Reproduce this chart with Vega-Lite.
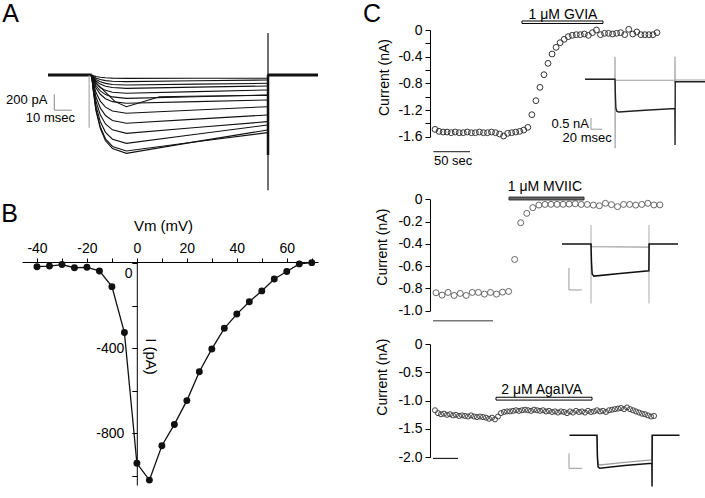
{
"$schema":"https://vega.github.io/schema/vega-lite/v6.json",
"width":705,"height":498,"autosize":{"type":"none"},"padding":0,"background":"white",
"config":{"view":{"stroke":null},"font":"Liberation Sans","axis":{"grid":false,"domainColor":"#000","domainWidth":1,"tickColor":"#000","tickWidth":1,"labelColor":"#000","labelFont":"Liberation Sans","labelFontSize":14,"titleFont":"Liberation Sans","titleFontWeight":"normal","titleColor":"#000","titleFontSize":14,"labelFlush":false,"labelOverlap":false,"labelBound":false},"text":{"font":"Liberation Sans","color":"#000"}},
"resolve":{"scale":{"x":"independent","y":"independent"},"axis":{"x":"independent","y":"independent"}},
"datasets":{
"aTr":[
{"k":1,"t":25,"i":0},{"k":1,"t":26,"i":-8},{"k":1,"t":27.5,"i":-19},{"k":1,"t":30,"i":-29},{"k":1,"t":33,"i":-35},{"k":1,"t":37,"i":-39},{"k":1,"t":45,"i":-42},{"k":1,"t":85,"i":-41},{"k":1,"t":126,"i":-40},
{"k":2,"t":25,"i":0},{"k":2,"t":26,"i":-17},{"k":2,"t":27.5,"i":-37},{"k":2,"t":30,"i":-56},{"k":2,"t":33,"i":-70},{"k":2,"t":37,"i":-78},{"k":2,"t":45,"i":-83},{"k":2,"t":85,"i":-72},{"k":2,"t":126,"i":-62},
{"k":3,"t":25,"i":0},{"k":3,"t":26,"i":-25},{"k":3,"t":27.5,"i":-56},{"k":3,"t":30,"i":-85},{"k":3,"t":33,"i":-105},{"k":3,"t":37,"i":-118},{"k":3,"t":45,"i":-125},{"k":3,"t":85,"i":-114},{"k":3,"t":126,"i":-104},
{"k":4,"t":25,"i":0},{"k":4,"t":26,"i":-33},{"k":4,"t":27.5,"i":-75},{"k":4,"t":30,"i":-114},{"k":4,"t":33,"i":-140},{"k":4,"t":37,"i":-157},{"k":4,"t":45,"i":-167},{"k":4,"t":85,"i":-152},{"k":4,"t":126,"i":-137},
{"k":5,"t":25,"i":0},{"k":5,"t":26,"i":-46},{"k":5,"t":27.5,"i":-103},{"k":5,"t":30,"i":-156},{"k":5,"t":33,"i":-192},{"k":5,"t":37,"i":-215},{"k":5,"t":45,"i":-229},{"k":5,"t":85,"i":-208},{"k":5,"t":126,"i":-187},
{"k":6,"t":25,"i":0},{"k":6,"t":26,"i":-58},{"k":6,"t":27.5,"i":-131},{"k":6,"t":30,"i":-199},{"k":6,"t":33,"i":-245},{"k":6,"t":37,"i":-274},{"k":6,"t":45,"i":-292},{"k":6,"t":85,"i":-271},{"k":6,"t":126,"i":-250},
{"k":7,"t":25,"i":0},{"k":7,"t":26,"i":-71},{"k":7,"t":27.5,"i":-159},{"k":7,"t":30,"i":-241},{"k":7,"t":33,"i":-297},{"k":7,"t":37,"i":-333},{"k":7,"t":45,"i":-354},{"k":7,"t":85,"i":-333},{"k":7,"t":126,"i":-312},
{"k":8,"t":25,"i":0},{"k":8,"t":26,"i":-96},{"k":8,"t":27.5,"i":-216},{"k":8,"t":30,"i":-326},{"k":8,"t":33,"i":-402},{"k":8,"t":37,"i":-450},{"k":8,"t":45,"i":-479},{"k":8,"t":85,"i":-437},{"k":8,"t":126,"i":-396},
{"k":9,"t":25,"i":0},{"k":9,"t":26,"i":-121},{"k":9,"t":27.5,"i":-272},{"k":9,"t":30,"i":-411},{"k":9,"t":33,"i":-507},{"k":9,"t":37,"i":-568},{"k":9,"t":45,"i":-604},{"k":9,"t":85,"i":-552},{"k":9,"t":126,"i":-500},
{"k":10,"t":25,"i":0},{"k":10,"t":26,"i":-146},{"k":10,"t":27.5,"i":-328},{"k":10,"t":30,"i":-496},{"k":10,"t":33,"i":-612},{"k":10,"t":37,"i":-685},{"k":10,"t":45,"i":-729},{"k":10,"t":85,"i":-656},{"k":10,"t":126,"i":-583},
{"k":11,"t":25,"i":0},{"k":11,"t":26,"i":-171},{"k":11,"t":27.5,"i":-384},{"k":11,"t":30,"i":-581},{"k":11,"t":33,"i":-717},{"k":11,"t":37,"i":-803},{"k":11,"t":45,"i":-854},{"k":11,"t":85,"i":-740},{"k":11,"t":126,"i":-625},
{"k":12,"t":25,"i":0},{"k":12,"t":26,"i":-196},{"k":12,"t":27.5,"i":-441},{"k":12,"t":30,"i":-666},{"k":12,"t":33,"i":-822},{"k":12,"t":37,"i":-920},{"k":12,"t":45,"i":-979},{"k":12,"t":85,"i":-833},{"k":12,"t":126,"i":-688},
{"k":13,"t":25,"i":0},{"k":13,"t":26,"i":-190},{"k":13,"t":27.5,"i":-428},{"k":13,"t":30,"i":-646},{"k":13,"t":33,"i":-798},{"k":13,"t":37,"i":-893},{"k":13,"t":45,"i":-950},{"k":13,"t":85,"i":-835},{"k":13,"t":126,"i":-720},
{"k":14,"t":25,"i":0},{"k":14,"t":27.8,"i":-104},{"k":14,"t":38.5,"i":-333},{"k":14,"t":45,"i":-396},{"k":14,"t":64,"i":-271},{"k":14,"t":90,"i":-262},{"k":14,"t":126,"i":-255}
],
"bIV":[
{"v":-40,"i":-16},{"v":-35,"i":-13},{"v":-30,"i":-6},{"v":-25,"i":-21},{"v":-20,"i":-19},{"v":-15,"i":-36},{"v":-10,"i":-110},{"v":-5,"i":-326},{"v":0,"i":-941},{"v":5,"i":-1020},{"v":10,"i":-858},{"v":15,"i":-758},{"v":20,"i":-646},{"v":25,"i":-510},{"v":30,"i":-403},{"v":35,"i":-306},{"v":40,"i":-239},{"v":45,"i":-181},{"v":50,"i":-130},{"v":55,"i":-74},{"v":60,"i":-39},{"v":65,"i":-3},{"v":70,"i":3}
],
"c1":[
{"t":0,"i":-1.49},{"t":5.5,"i":-1.52},{"t":11,"i":-1.53},{"t":16.5,"i":-1.53},{"t":22,"i":-1.54},{"t":27.5,"i":-1.53},{"t":33,"i":-1.54},{"t":38.5,"i":-1.54},{"t":44,"i":-1.53},{"t":49.5,"i":-1.54},{"t":55,"i":-1.54},{"t":60.5,"i":-1.53},{"t":66,"i":-1.54},{"t":71.5,"i":-1.54},{"t":77,"i":-1.53},{"t":82.5,"i":-1.54},{"t":88,"i":-1.56},{"t":93.5,"i":-1.59},{"t":99,"i":-1.55},{"t":104.5,"i":-1.54},{"t":110,"i":-1.53},{"t":115.5,"i":-1.52},{"t":121,"i":-1.5},{"t":126.5,"i":-1.46},{"t":132,"i":-1.27},{"t":137.5,"i":-1.06},{"t":143,"i":-0.86},{"t":148.5,"i":-0.67},{"t":154,"i":-0.5},{"t":159.5,"i":-0.36},{"t":165,"i":-0.26},{"t":170.5,"i":-0.19},{"t":176,"i":-0.14},{"t":181.5,"i":-0.1},{"t":187,"i":-0.08},{"t":192.5,"i":-0.07},{"t":198,"i":-0.07},{"t":203.5,"i":-0.06},{"t":209,"i":-0.08},{"t":214.5,"i":-0.04},{"t":220,"i":0.0},{"t":225.5,"i":-0.07},{"t":231,"i":-0.05},{"t":236.5,"i":-0.05},{"t":242,"i":-0.06},{"t":247.5,"i":-0.05},{"t":253,"i":-0.04},{"t":258.5,"i":-0.07},{"t":264,"i":0.01},{"t":269.5,"i":-0.06},{"t":275,"i":-0.03},{"t":280.5,"i":-0.07},{"t":286,"i":-0.07},{"t":291.5,"i":-0.07},{"t":297,"i":-0.07},{"t":302.5,"i":-0.04}
],
"c2":[
{"t":0,"i":-0.839},{"t":5,"i":-0.86},{"t":10,"i":-0.836},{"t":15,"i":-0.863},{"t":20,"i":-0.845},{"t":25,"i":-0.863},{"t":30,"i":-0.836},{"t":35,"i":-0.836},{"t":40,"i":-0.851},{"t":45,"i":-0.836},{"t":50,"i":-0.851},{"t":55,"i":-0.833},{"t":60,"i":-0.827},{"t":65,"i":-0.54},{"t":70,"i":-0.21},{"t":75,"i":-0.126},{"t":80,"i":-0.075},{"t":85,"i":-0.052},{"t":90,"i":-0.046},{"t":95,"i":-0.045},{"t":100,"i":-0.045},{"t":105,"i":-0.045},{"t":110,"i":-0.043},{"t":115,"i":-0.04},{"t":120,"i":-0.046},{"t":125,"i":-0.046},{"t":130,"i":-0.052},{"t":135,"i":-0.058},{"t":140,"i":-0.036},{"t":145,"i":-0.048},{"t":150,"i":-0.066},{"t":155,"i":-0.046},{"t":160,"i":-0.046},{"t":165,"i":-0.052},{"t":170,"i":-0.046},{"t":175,"i":-0.036},{"t":180,"i":-0.051},{"t":185,"i":-0.05}
],
"c3":[
{"t":0,"i":-1.17},{"t":6,"i":-1.22},{"t":12,"i":-1.24},{"t":18,"i":-1.23},{"t":24,"i":-1.25},{"t":30,"i":-1.24},{"t":36,"i":-1.26},{"t":42,"i":-1.25},{"t":48,"i":-1.27},{"t":54,"i":-1.26},{"t":60,"i":-1.27},{"t":66,"i":-1.28},{"t":72,"i":-1.26},{"t":78,"i":-1.28},{"t":84,"i":-1.29},{"t":90,"i":-1.28},{"t":96,"i":-1.29},{"t":102,"i":-1.3},{"t":108,"i":-1.32},{"t":114,"i":-1.3},{"t":120,"i":-1.33},{"t":126,"i":-1.28},{"t":132,"i":-1.22},{"t":138,"i":-1.2},{"t":144,"i":-1.19},{"t":150,"i":-1.19},{"t":156,"i":-1.18},{"t":162,"i":-1.17},{"t":168,"i":-1.18},{"t":174,"i":-1.17},{"t":180,"i":-1.16},{"t":186,"i":-1.17},{"t":192,"i":-1.18},{"t":198,"i":-1.16},{"t":204,"i":-1.17},{"t":210,"i":-1.18},{"t":216,"i":-1.17},{"t":222,"i":-1.19},{"t":228,"i":-1.18},{"t":234,"i":-1.2},{"t":240,"i":-1.19},{"t":246,"i":-1.21},{"t":252,"i":-1.19},{"t":258,"i":-1.2},{"t":264,"i":-1.22},{"t":270,"i":-1.19},{"t":276,"i":-1.21},{"t":282,"i":-1.18},{"t":288,"i":-1.2},{"t":294,"i":-1.19},{"t":300,"i":-1.21},{"t":306,"i":-1.18},{"t":312,"i":-1.2},{"t":318,"i":-1.19},{"t":324,"i":-1.17},{"t":330,"i":-1.19},{"t":336,"i":-1.18},{"t":342,"i":-1.2},{"t":348,"i":-1.17},{"t":354,"i":-1.16},{"t":360,"i":-1.15},{"t":366,"i":-1.14},{"t":372,"i":-1.13},{"t":378,"i":-1.15},{"t":384,"i":-1.12},{"t":390,"i":-1.15},{"t":396,"i":-1.17},{"t":402,"i":-1.19},{"t":408,"i":-1.21},{"t":414,"i":-1.23},{"t":420,"i":-1.24},{"t":426,"i":-1.26},{"t":432,"i":-1.28},{"t":438,"i":-1.27}
],
"c1g":[{"t":0,"i":0},{"t":49.8,"i":0},{"t":50,"i":0.94},{"t":50.2,"i":-2.87},{"t":50.5,"i":-0.03},{"t":149.8,"i":-0.04},{"t":150,"i":0.94},{"t":150.2,"i":-0.17},{"t":150.5,"i":-0.03},{"t":200,"i":-0.03}],
"c1b":[{"t":0,"i":0},{"t":50,"i":0},{"t":50.7,"i":-0.7},{"t":51.5,"i":-1.2},{"t":53,"i":-1.33},{"t":56,"i":-1.36},{"t":100,"i":-1.29},{"t":149.8,"i":-1.22},{"t":150.1,"i":-2.74},{"t":150.4,"i":-0.1},{"t":200,"i":-0.1}],
"c2g":[{"t":50,"i":0},{"t":50.8,"i":-0.06},{"t":149.8,"i":-0.07},{"t":150.3,"i":0}],
"c2b":[{"t":0,"i":0},{"t":50,"i":0},{"t":50.8,"i":-0.4},{"t":52,"i":-0.68},{"t":55,"i":-0.73},{"t":100,"i":-0.67},{"t":149.8,"i":-0.61},{"t":150.2,"i":0},{"t":200,"i":0}],
"c3g":[{"t":50,"i":0},{"t":50.8,"i":-0.7},{"t":52,"i":-0.95},{"t":55,"i":-0.99},{"t":100,"i":-0.9},{"t":149.8,"i":-0.82},{"t":150.2,"i":0}],
"c3b":[{"t":0,"i":0},{"t":50,"i":0},{"t":50.8,"i":-0.75},{"t":52,"i":-1.05},{"t":55,"i":-1.1},{"t":100,"i":-1.01},{"t":149.8,"i":-0.93},{"t":150.1,"i":-1.71},{"t":150.4,"i":0},{"t":200,"i":0}]
},
"layer":[
{"data":{"values":[{"t":0,"t2":25,"i":0},{"t":126,"t2":155,"i":0}]},"mark":{"type":"rule","color":"#111","strokeWidth":3},
 "encoding":{"x":{"field":"t","type":"quantitative","scale":{"domain":[0,155],"range":[48,318],"nice":false,"zero":false},"axis":null},"x2":{"field":"t2"},"y":{"field":"i","type":"quantitative","scale":{"domain":[-1000,0],"range":[155,75],"nice":false,"zero":false},"axis":null}}},
{"data":{"name":"aTr"},"mark":{"type":"line","color":"#111","strokeWidth":1.1},
 "encoding":{"x":{"field":"t","type":"quantitative","scale":{"domain":[0,155],"range":[48,318],"nice":false,"zero":false},"axis":null},"y":{"field":"i","type":"quantitative","scale":{"domain":[-1000,0],"range":[155,75],"nice":false,"zero":false},"axis":null},"detail":{"field":"k","type":"nominal"}}},
{"data":{"values":[{"t":23.6,"i":0,"i2":-660}]},"mark":{"type":"rule","color":"#999","strokeWidth":1},
 "encoding":{"x":{"field":"t","type":"quantitative","scale":{"domain":[0,155],"range":[48,318],"nice":false,"zero":false},"axis":null},"y":{"field":"i","type":"quantitative","scale":{"domain":[-1000,0],"range":[155,75],"nice":false,"zero":false},"axis":null},"y2":{"field":"i2"}}},
{"data":{"values":[{"t":126.3,"i":525,"i2":-1440}]},"mark":{"type":"rule","color":"#111","strokeWidth":1.2},
 "encoding":{"x":{"field":"t","type":"quantitative","scale":{"domain":[0,155],"range":[48,318],"nice":false,"zero":false},"axis":null},"y":{"field":"i","type":"quantitative","scale":{"domain":[-1000,0],"range":[155,75],"nice":false,"zero":false},"axis":null},"y2":{"field":"i2"}}},
{"data":{"values":[{"t":126.3,"i":0,"i2":-1000}]},"mark":{"type":"rule","color":"#111","strokeWidth":2.5},
 "encoding":{"x":{"field":"t","type":"quantitative","scale":{"domain":[0,155],"range":[48,318],"nice":false,"zero":false},"axis":null},"y":{"field":"i","type":"quantitative","scale":{"domain":[-1000,0],"range":[155,75],"nice":false,"zero":false},"axis":null},"y2":{"field":"i2"}}},
{"data":{"values":[{"t":3.6,"t2":3.6,"i":-240,"i2":-440},{"t":3.6,"t2":13.6,"i":-440,"i2":-440}]},"mark":{"type":"rule","color":"#888","strokeWidth":1},
 "encoding":{"x":{"field":"t","type":"quantitative","scale":{"domain":[0,155],"range":[48,318],"nice":false,"zero":false},"axis":null},"x2":{"field":"t2"},"y":{"field":"i","type":"quantitative","scale":{"domain":[-1000,0],"range":[155,75],"nice":false,"zero":false},"axis":null},"y2":{"field":"i2"}}},
{"data":{"values":[{"t":-0.4,"i":-312,"label":"200 pA"},{"t":15.5,"i":-541,"label":"10 msec"}]},"mark":{"type":"text","align":"right","baseline":"middle","fontSize":13},
 "encoding":{"x":{"field":"t","type":"quantitative","scale":{"domain":[0,155],"range":[48,318],"nice":false,"zero":false},"axis":null},"y":{"field":"i","type":"quantitative","scale":{"domain":[-1000,0],"range":[155,75],"nice":false,"zero":false},"axis":null},"text":{"field":"label"}}},
{"data":{"values":[{"t":-21.5,"i":762,"label":"A"}]},"mark":{"type":"text","align":"center","baseline":"middle","fontSize":25},
 "encoding":{"x":{"field":"t","type":"quantitative","scale":{"domain":[0,155],"range":[48,318],"nice":false,"zero":false},"axis":null},"y":{"field":"i","type":"quantitative","scale":{"domain":[-1000,0],"range":[155,75],"nice":false,"zero":false},"axis":null},"text":{"field":"label"}}},

{"data":{"name":"bIV"},"mark":{"type":"line","color":"#111","strokeWidth":1.3,"point":{"filled":true,"size":48,"color":"#111","opacity":1}},
 "encoding":{"x":{"field":"v","type":"quantitative","scale":{"domain":[-46,72.5],"range":[22,318],"nice":false,"zero":false},
   "axis":{"orient":"top","offset":-262,"values":[-40,-30,-20,-10,0,10,20,30,40,50,60,70],"labelExpr":"datum.value % 20 == 0 ? (datum.value < 0 ? '-' : '') + abs(datum.value) : ''","tickSize":4,"labelPadding":3,"title":"Vm (mV)","titleX":163,"titleY":-37,"titleAlign":"center","titleBaseline":"middle","titleFontSize":15,"labelFontSize":14}},
  "y":{"field":"i","type":"quantitative","scale":{"domain":[-1043,5],"range":[485,262.2],"nice":false,"zero":false},
   "axis":{"orient":"left","offset":-136.8,"values":[0,-200,-400,-600,-800,-1000],"labelExpr":"datum.value == -400 || datum.value == -800 ? '-' + abs(datum.value) : ''","tickSize":5,"labelPadding":8,"title":"I (pA)","titleAngle":90,"titleX":14,"titleY":356,"titleAlign":"center","titleBaseline":"middle","titleFontSize":15,"labelFontSize":14}}}},
{"data":{"values":[{"v":-3.3,"i":-49,"label":"0"},{"v":-51,"i":230,"label":"B"}]},"mark":{"type":"text","align":"center","baseline":"middle","fontSize":14},
 "encoding":{"x":{"field":"v","type":"quantitative","scale":{"domain":[-46,72.5],"range":[22,318],"nice":false,"zero":false},"axis":null},"y":{"field":"i","type":"quantitative","scale":{"domain":[-1043,5],"range":[485,262.2],"nice":false,"zero":false},"axis":null},"text":{"field":"label"},
  "size":{"condition":{"test":"datum.label == 'B'","value":25},"value":14}}},

{"data":{"name":"c1"},"mark":{"type":"point","shape":"circle","filled":false,"stroke":"#333","strokeWidth":1,"size":34,"opacity":1},
 "encoding":{"x":{"field":"t","type":"quantitative","scale":{"domain":[0,302.5],"range":[435,657],"nice":false,"zero":false},"axis":null},
  "y":{"field":"i","type":"quantitative","scale":{"domain":[-1.6,0],"range":[136.7,30],"nice":false,"zero":false},
   "axis":{"orient":"left","offset":-430,"values":[0,-0.2,-0.4,-0.6,-0.8,-1,-1.2,-1.4,-1.6],"labelExpr":"datum.value == 0 ? '0' : (abs(round(datum.value*10)) % 4 == 0 ? '-' + format(abs(datum.value), '.1f') : '')","tickSize":5,"labelPadding":3,"title":"Current (nA)","titleAngle":-90,"titleX":-46,"titleY":77,"titleAlign":"center","titleBaseline":"middle"}}}},
{"data":{"values":[{"t":118.5,"t2":228.9,"i":0.135,"i2":0.0975}]},"mark":{"type":"rect","fill":"white","stroke":"#000","strokeWidth":1},
 "encoding":{"x":{"field":"t","type":"quantitative","scale":{"domain":[0,302.5],"range":[435,657],"nice":false,"zero":false},"axis":null},"x2":{"field":"t2"},"y":{"field":"i","type":"quantitative","scale":{"domain":[-1.6,0],"range":[136.7,30],"nice":false,"zero":false},"axis":null},"y2":{"field":"i2"}}},
{"data":{"values":[{"t":174.4,"i":0.225,"label":"1 μM GVIA"}]},"mark":{"type":"text","align":"center","baseline":"middle","fontSize":14},
 "encoding":{"x":{"field":"t","type":"quantitative","scale":{"domain":[0,302.5],"range":[435,657],"nice":false,"zero":false},"axis":null},"y":{"field":"i","type":"quantitative","scale":{"domain":[-1.6,0],"range":[136.7,30],"nice":false,"zero":false},"axis":null},"text":{"field":"label"}}},
{"data":{"values":[{"t":-2.3,"t2":47.7,"i":-1.825}]},"mark":{"type":"rule","color":"#444","strokeWidth":1.2},
 "encoding":{"x":{"field":"t","type":"quantitative","scale":{"domain":[0,302.5],"range":[435,657],"nice":false,"zero":false},"axis":null},"x2":{"field":"t2"},"y":{"field":"i","type":"quantitative","scale":{"domain":[-1.6,0],"range":[136.7,30],"nice":false,"zero":false},"axis":null}}},
{"data":{"values":[{"t":-1.4,"i":-1.964,"label":"50 sec"}]},"mark":{"type":"text","align":"left","baseline":"middle","fontSize":13},
 "encoding":{"x":{"field":"t","type":"quantitative","scale":{"domain":[0,302.5],"range":[435,657],"nice":false,"zero":false},"axis":null},"y":{"field":"i","type":"quantitative","scale":{"domain":[-1.6,0],"range":[136.7,30],"nice":false,"zero":false},"axis":null},"text":{"field":"label"}}},
{"data":{"values":[{"t":-85.8,"i":0.247,"label":"C"}]},"mark":{"type":"text","align":"center","baseline":"middle","fontSize":25},
 "encoding":{"x":{"field":"t","type":"quantitative","scale":{"domain":[0,302.5],"range":[435,657],"nice":false,"zero":false},"axis":null},"y":{"field":"i","type":"quantitative","scale":{"domain":[-1.6,0],"range":[136.7,30],"nice":false,"zero":false},"axis":null},"text":{"field":"label"}}},
{"data":{"name":"c1g"},"mark":{"type":"line","color":"#a0a0a0","strokeWidth":1.2},
 "encoding":{"x":{"field":"t","type":"quantitative","scale":{"domain":[0,200],"range":[585,705],"nice":false,"zero":false},"axis":null},"y":{"field":"i","type":"quantitative","scale":{"domain":[-2,0],"range":[127.3,79.3],"nice":false,"zero":false},"axis":null}}},
{"data":{"name":"c1b"},"mark":{"type":"line","color":"#222","strokeWidth":1.4},
 "encoding":{"x":{"field":"t","type":"quantitative","scale":{"domain":[0,200],"range":[585,705],"nice":false,"zero":false},"axis":null},"y":{"field":"i","type":"quantitative","scale":{"domain":[-2,0],"range":[127.3,79.3],"nice":false,"zero":false},"axis":null}}},
{"data":{"values":[{"t":10,"t2":10,"i":-1.61,"i2":-2.08},{"t":10,"t2":29,"i":-2.08,"i2":-2.08}]},"mark":{"type":"rule","color":"#999","strokeWidth":1},
 "encoding":{"x":{"field":"t","type":"quantitative","scale":{"domain":[0,200],"range":[585,705],"nice":false,"zero":false},"axis":null},"x2":{"field":"t2"},"y":{"field":"i","type":"quantitative","scale":{"domain":[-2,0],"range":[127.3,79.3],"nice":false,"zero":false},"axis":null},"y2":{"field":"i2"}}},
{"data":{"values":[{"t":6.7,"i":-1.85,"label":"0.5 nA"},{"t":44.5,"i":-2.45,"label":"20 msec"}]},"mark":{"type":"text","align":"right","baseline":"middle","fontSize":13},
 "encoding":{"x":{"field":"t","type":"quantitative","scale":{"domain":[0,200],"range":[585,705],"nice":false,"zero":false},"axis":null},"y":{"field":"i","type":"quantitative","scale":{"domain":[-2,0],"range":[127.3,79.3],"nice":false,"zero":false},"axis":null},"text":{"field":"label"}}},

{"data":{"name":"c2"},"mark":{"type":"point","shape":"circle","filled":false,"stroke":"#666","strokeWidth":1,"size":36,"opacity":1},
 "encoding":{"x":{"field":"t","type":"quantitative","scale":{"domain":[0,185],"range":[436,659.9],"nice":false,"zero":false},"axis":null},
  "y":{"field":"i","type":"quantitative","scale":{"domain":[-1,0],"range":[310.7,199.3],"nice":false,"zero":false},
   "axis":{"orient":"left","offset":-430,"values":[0,-0.2,-0.4,-0.6,-0.8,-1],"labelExpr":"datum.value == 0 ? '0' : '-' + format(abs(datum.value), '.1f')","tickSize":5,"labelPadding":3,"title":"Current (nA)","titleAngle":-90,"titleX":-48,"titleY":246.7,"titleAlign":"center","titleBaseline":"middle"}}}},
{"data":{"values":[{"t":60.3,"t2":122.3,"i":0.02,"i2":-0.006}]},"mark":{"type":"rect","fill":"#666","stroke":"#333","strokeWidth":1},
 "encoding":{"x":{"field":"t","type":"quantitative","scale":{"domain":[0,185],"range":[436,659.9],"nice":false,"zero":false},"axis":null},"x2":{"field":"t2"},"y":{"field":"i","type":"quantitative","scale":{"domain":[-1,0],"range":[310.7,199.3],"nice":false,"zero":false},"axis":null},"y2":{"field":"i2"}}},
{"data":{"values":[{"t":90,"i":0.113,"label":"1 μM MVIIC"}]},"mark":{"type":"text","align":"center","baseline":"middle","fontSize":14},
 "encoding":{"x":{"field":"t","type":"quantitative","scale":{"domain":[0,185],"range":[436,659.9],"nice":false,"zero":false},"axis":null},"y":{"field":"i","type":"quantitative","scale":{"domain":[-1,0],"range":[310.7,199.3],"nice":false,"zero":false},"axis":null},"text":{"field":"label"}}},
{"data":{"values":[{"t":-2.5,"t2":47.1,"i":-1.09}]},"mark":{"type":"rule","color":"#777","strokeWidth":1.5},
 "encoding":{"x":{"field":"t","type":"quantitative","scale":{"domain":[0,185],"range":[436,659.9],"nice":false,"zero":false},"axis":null},"x2":{"field":"t2"},"y":{"field":"i","type":"quantitative","scale":{"domain":[-1,0],"range":[310.7,199.3],"nice":false,"zero":false},"axis":null}}},
{"data":{"values":[{"t":50,"i":0.43,"i2":-1.35},{"t":150,"i":0.43,"i2":-1.35}]},"mark":{"type":"rule","color":"#aaa","strokeWidth":1},
 "encoding":{"x":{"field":"t","type":"quantitative","scale":{"domain":[0,200],"range":[562,678],"nice":false,"zero":false},"axis":null},"y":{"field":"i","type":"quantitative","scale":{"domain":[-1,0],"range":[288,244],"nice":false,"zero":false},"axis":null},"y2":{"field":"i2"}}},
{"data":{"name":"c2g"},"mark":{"type":"line","color":"#a0a0a0","strokeWidth":1.3},
 "encoding":{"x":{"field":"t","type":"quantitative","scale":{"domain":[0,200],"range":[562,678],"nice":false,"zero":false},"axis":null},"y":{"field":"i","type":"quantitative","scale":{"domain":[-1,0],"range":[288,244],"nice":false,"zero":false},"axis":null}}},
{"data":{"name":"c2b"},"mark":{"type":"line","color":"#111","strokeWidth":1.5},
 "encoding":{"x":{"field":"t","type":"quantitative","scale":{"domain":[0,200],"range":[562,678],"nice":false,"zero":false},"axis":null},"y":{"field":"i","type":"quantitative","scale":{"domain":[-1,0],"range":[288,244],"nice":false,"zero":false},"axis":null}}},
{"data":{"values":[{"t":12,"t2":12,"i":-0.545,"i2":-1.045},{"t":12,"t2":34,"i":-1.045,"i2":-1.045}]},"mark":{"type":"rule","color":"#999","strokeWidth":1},
 "encoding":{"x":{"field":"t","type":"quantitative","scale":{"domain":[0,200],"range":[562,678],"nice":false,"zero":false},"axis":null},"x2":{"field":"t2"},"y":{"field":"i","type":"quantitative","scale":{"domain":[-1,0],"range":[288,244],"nice":false,"zero":false},"axis":null},"y2":{"field":"i2"}}},

{"data":{"name":"c3"},"mark":{"type":"point","shape":"circle","filled":false,"stroke":"#444","strokeWidth":1,"size":26,"opacity":1},
 "encoding":{"x":{"field":"t","type":"quantitative","scale":{"domain":[0,438],"range":[435,654],"nice":false,"zero":false},"axis":null},
  "y":{"field":"i","type":"quantitative","scale":{"domain":[-2,0],"range":[457.3,344],"nice":false,"zero":false},
   "axis":{"orient":"left","offset":-430,"values":[0,-0.5,-1,-1.5,-2],"labelExpr":"datum.value == 0 ? '0' : '-' + format(abs(datum.value), '.1f')","tickSize":5,"labelPadding":3,"title":"Current (nA)","titleAngle":-90,"titleX":-48,"titleY":376.7,"titleAlign":"center","titleBaseline":"middle"}}}},
{"data":{"values":[{"t":122,"t2":314,"i":-0.94,"i2":-0.99}]},"mark":{"type":"rect","fill":"white","stroke":"#000","strokeWidth":1},
 "encoding":{"x":{"field":"t","type":"quantitative","scale":{"domain":[0,438],"range":[435,654],"nice":false,"zero":false},"axis":null},"x2":{"field":"t2"},"y":{"field":"i","type":"quantitative","scale":{"domain":[-2,0],"range":[457.3,344],"nice":false,"zero":false},"axis":null},"y2":{"field":"i2"}}},
{"data":{"values":[{"t":213.4,"i":-0.812,"label":"2 μM AgaIVA"}]},"mark":{"type":"text","align":"center","baseline":"middle","fontSize":14},
 "encoding":{"x":{"field":"t","type":"quantitative","scale":{"domain":[0,438],"range":[435,654],"nice":false,"zero":false},"axis":null},"y":{"field":"i","type":"quantitative","scale":{"domain":[-2,0],"range":[457.3,344],"nice":false,"zero":false},"axis":null},"text":{"field":"label"}}},
{"data":{"values":[{"t":-4,"t2":46,"i":-2.02}]},"mark":{"type":"rule","color":"#222","strokeWidth":1.2},
 "encoding":{"x":{"field":"t","type":"quantitative","scale":{"domain":[0,438],"range":[435,654],"nice":false,"zero":false},"axis":null},"x2":{"field":"t2"},"y":{"field":"i","type":"quantitative","scale":{"domain":[-2,0],"range":[457.3,344],"nice":false,"zero":false},"axis":null}}},
{"data":{"name":"c3g"},"mark":{"type":"line","color":"#a0a0a0","strokeWidth":1.3},
 "encoding":{"x":{"field":"t","type":"quantitative","scale":{"domain":[0,200],"range":[569.5,679.5],"nice":false,"zero":false},"axis":null},"y":{"field":"i","type":"quantitative","scale":{"domain":[-1,0],"range":[465.3,435.3],"nice":false,"zero":false},"axis":null}}},
{"data":{"name":"c3b"},"mark":{"type":"line","color":"#111","strokeWidth":1.5},
 "encoding":{"x":{"field":"t","type":"quantitative","scale":{"domain":[0,200],"range":[569.5,679.5],"nice":false,"zero":false},"axis":null},"y":{"field":"i","type":"quantitative","scale":{"domain":[-1,0],"range":[465.3,435.3],"nice":false,"zero":false},"axis":null}}},
{"data":{"values":[{"t":-0.9,"t2":-0.9,"i":-0.6,"i2":-1.1},{"t":-0.9,"t2":22.7,"i":-1.1,"i2":-1.1}]},"mark":{"type":"rule","color":"#999","strokeWidth":1},
 "encoding":{"x":{"field":"t","type":"quantitative","scale":{"domain":[0,200],"range":[569.5,679.5],"nice":false,"zero":false},"axis":null},"x2":{"field":"t2"},"y":{"field":"i","type":"quantitative","scale":{"domain":[-1,0],"range":[465.3,435.3],"nice":false,"zero":false},"axis":null},"y2":{"field":"i2"}}}
]
}
